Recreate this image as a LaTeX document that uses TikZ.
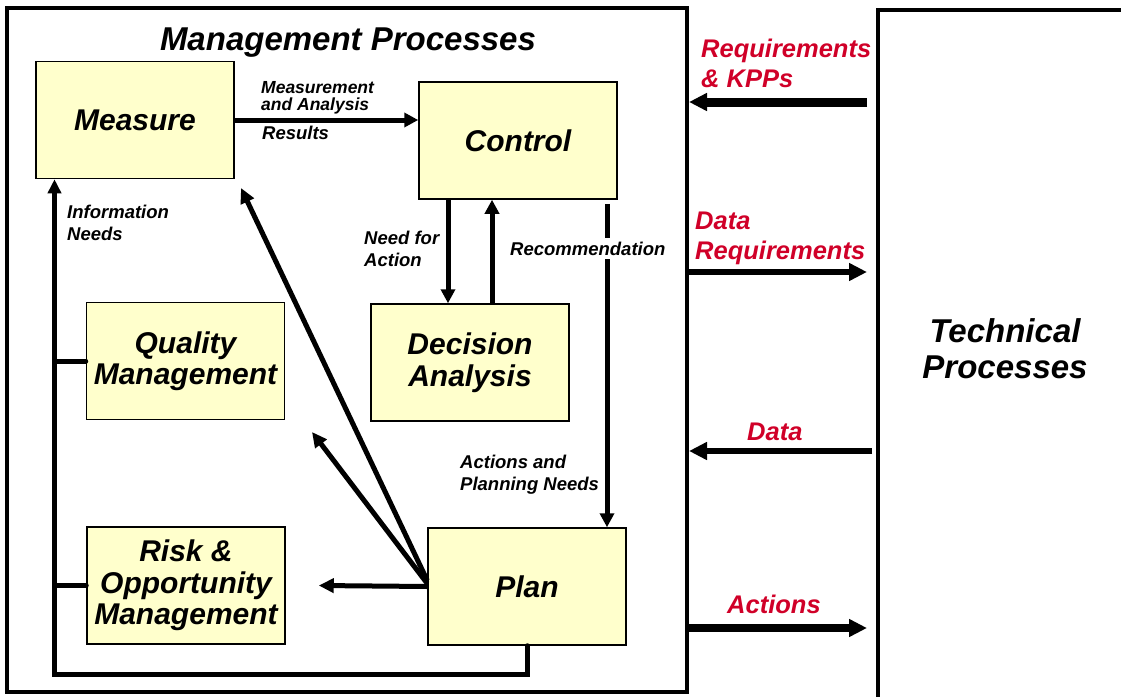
\documentclass[tikz,border=0pt]{standalone}
\usepackage{fontspec}
\setmainfont{Liberation Sans}
\usetikzlibrary{positioning, arrows.meta, calc}

\definecolor{boxfill}{RGB}{255,255,204}
\definecolor{reqred}{RGB}{208,0,40}
\newcommand{\boxfont}{\bfseries\itshape\fontsize{30}{31.5}\selectfont}
\newcommand{\lblfont}{\bfseries\itshape\fontsize{18.5}{22}\selectfont}
\newcommand{\redfont}{\bfseries\itshape\fontsize{25.5}{29.5}\selectfont}
\newcommand{\bigfont}{\bfseries\itshape\fontsize{33}{36}\selectfont}

\begin{document}
\begin{tikzpicture}[x=1pt, y=-1pt,
    procbox/.style={draw, line width=1.5pt, fill=boxfill, minimum width=198pt,
      minimum height=117pt, align=center, font=\boxfont, inner sep=0pt},
    lbl/.style={font=\lblfont, align=left, anchor=base west, inner sep=0pt},
    redlbl/.style={font=\redfont, text=reqred, align=left, anchor=base west, inner sep=0pt},
    flow/.style={line width=5pt, -{Triangle[length=14pt, width=14pt]}},
    diag/.style={line width=5pt, -{Triangle[length=15pt, width=14pt]}},
    bus/.style={line width=5pt, line cap=round},
    sideflow/.style={-{Triangle[length=18pt, width=17pt]}},
  ]
    \useasboundingbox (0,0) rectangle (1121,696);

    % Frames
    \node[draw, line width=4pt, minimum width=680pt, minimum height=684pt, inner sep=0pt] (mgmt) at (347,350) {};
    \draw[line width=4pt] (1130,10) -- (878,10) -- (878,705);
    \node[font=\bigfont, anchor=base] (title) at (348,50) {Management Processes};
    \node[font=\bigfont, align=center, anchor=base] (tech) at (1005,378) {Technical\\Processes};

    % Process boxes
    \node[procbox] (measure) at (135,120) {Measure};
    \node[procbox] (control) at (518,140.5) {Control};
    \node[procbox] (decision) at (470,362.5) {Decision\\Analysis};
    \node[procbox] (quality) at (185.5,361) {Quality\\Management};
    \node[procbox] (risk) at (186,585.5) {Risk \&\\Opportunity\\Management};
    \node[procbox] (plan) at (527,586.5) {Plan};

    % Measure to control
    \draw[flow] (measure.east) -- (control.west |- measure.east);
    \node[lbl, font=\bfseries\itshape\fontsize{17.5}{16.5}\selectfont] (results1) at (261,110) {Measurement\\and Analysis};
    \node[lbl] (results2) at (262,139) {Results};

    % Control and decision
    \coordinate (needTop) at ($(control.south)+(-70,0)$);
    \coordinate (backTop) at ($(control.south)+(-26,0)$);
    \coordinate (recTop) at ($(control.south)+(89,4)$);
    \draw[flow] (needTop) -- (needTop |- decision.north);
    \draw[flow] (backTop |- decision.north) -- (backTop);
    \node[lbl] (need) at (364,266) {Need for\\Action};
    \draw[flow] (recTop) -- (recTop |- plan.north);
    \node[lbl, fill=white, inner sep=4pt] (recommend) at (506,255) {Recommendation};
    \node[lbl] (planneeds) at (460,490) {Actions and\\Planning Needs};

    % Plan outputs
    \coordinate (measTip) at (241,188);
    \coordinate (qualTip) at (312,432);
    \coordinate (riskTip) at ($(risk.east)+(33,0)$);
    \draw[diag] ([yshift=6pt]plan.west) -- (measTip);
    \draw[diag] ([yshift=3pt]plan.west) -- (qualTip);
    \draw[diag] (plan.west) -- (riskTip);

    % Information needs bus
    \coordinate (busCorner) at (54.5,674);
    \draw[bus, -{Triangle[length=14pt, width=13pt]}] (plan.south) |- (busCorner) -- (busCorner |- measure.south);
    \draw[bus] (busCorner |- quality.west) -- (quality.west);
    \draw[bus] (busCorner |- risk.west) -- (risk.west);
    \node[lbl] (info) at (67,240) {Information\\Needs};

    % Links to technical processes
    \coordinate (kppEnd) at (867,102);
    \coordinate (dreqEnd) at (867,272);
    \coordinate (dataEnd) at (872,451);
    \coordinate (actEnd) at (867,628);
    \draw[sideflow, line width=9pt] (kppEnd) -- (mgmt.east |- kppEnd);
    \draw[sideflow, line width=6pt] (mgmt.east |- dreqEnd) -- (dreqEnd);
    \draw[sideflow, line width=6pt] (dataEnd) -- (mgmt.east |- dataEnd);
    \draw[sideflow, line width=8pt] (mgmt.east |- actEnd) -- (actEnd);
    \node[redlbl] (kpp) at (701,87) {Requirements\\\& KPPs};
    \node[redlbl] (dreq) at (695,259) {Data\\Requirements};
    \node[redlbl] (data) at (747,440) {Data};
    \node[redlbl] (act) at (727,613) {Actions};
\end{tikzpicture}
\end{document}
